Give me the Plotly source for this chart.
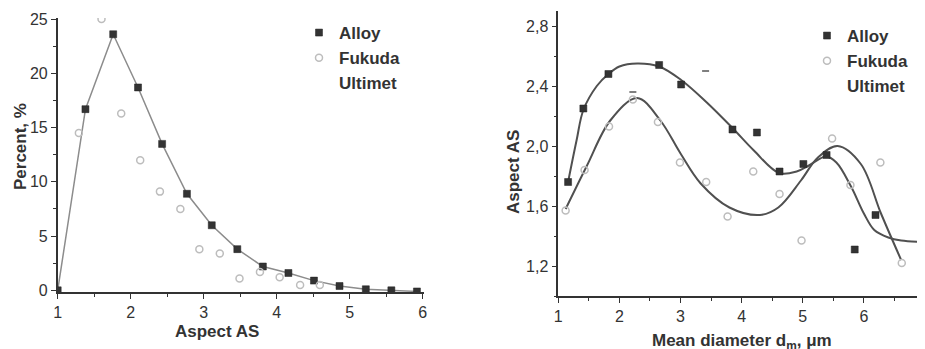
import plotly.graph_objects as go

# ---------------- Left panel data ----------------
alloy_as_x = [1.0, 1.38, 1.76, 2.10, 2.43, 2.77, 3.11, 3.46, 3.81, 4.16, 4.51, 4.86, 5.22, 5.57, 5.92]
alloy_as_y = [0.0, 16.7, 23.6, 18.7, 13.5, 8.9, 6.0, 3.8, 2.2, 1.6, 0.9, 0.4, 0.1, 0.0, -0.1]

fukuda_as_x = [1.29, 1.60, 1.87, 2.13, 2.40, 2.68, 2.94, 3.22, 3.49, 3.77, 4.04, 4.32, 4.59]
fukuda_as_y = [14.5, 25.0, 16.3, 12.0, 9.1, 7.5, 3.8, 3.4, 1.1, 1.7, 1.2, 0.5, 0.5]

# ---------------- Right panel data ----------------
alloy_d_x = [1.16, 1.41, 1.82, 2.65, 3.01, 3.85, 4.25, 4.62, 5.01, 5.39, 5.85, 6.19, 6.99]
alloy_d_y = [1.76, 2.25, 2.48, 2.54, 2.41, 2.11, 2.09, 1.83, 1.88, 1.94, 1.31, 1.54, 1.36]

fukuda_d_x = [1.12, 1.43, 1.83, 2.22, 2.63, 2.99, 3.42, 3.77, 4.19, 4.62, 4.98, 5.48, 5.78, 6.27, 6.62]
fukuda_d_y = [1.57, 1.84, 2.13, 2.31, 2.16, 1.89, 1.76, 1.53, 1.83, 1.68, 1.37, 2.05, 1.74, 1.89, 1.22]

ultimet_d_x = [2.22, 3.41]
ultimet_d_y = [2.36, 2.50]

# fitted curves
alloy_fit_x = [1.16, 1.30, 1.41, 1.63, 1.82, 2.00, 2.29, 2.65, 3.01, 3.43, 3.85, 4.20, 4.61, 4.90, 5.10, 5.38, 5.55, 5.79, 6.00, 6.17, 6.40, 6.61, 7.00]
alloy_fit_y = [1.76, 2.04, 2.24, 2.40, 2.48, 2.53, 2.55, 2.53, 2.44, 2.29, 2.12, 1.97, 1.82, 1.83, 1.87, 1.93, 1.89, 1.73, 1.55, 1.44, 1.39, 1.37, 1.36]

fukuda_fit_x = [1.12, 1.47, 1.85, 2.29, 2.67, 3.00, 3.33, 3.80, 4.30, 4.60, 4.97, 5.24, 5.57, 5.95, 6.28, 6.61]
fukuda_fit_y = [1.58, 1.87, 2.17, 2.32, 2.17, 1.95, 1.75, 1.59, 1.54, 1.59, 1.77, 1.92, 2.00, 1.88, 1.55, 1.24]

# The page body has an 8 px margin, so the figure is drawn 8 px smaller and
# everything is placed 8 px up/left of its target position in the window.
OFF = 8
W, H = 925 - OFF, 349 - OFF
FONT = "Liberation Sans, Arial, sans-serif"
SQ = "#333333"
CIR = "#bdbdbd"


def fx(px):
    return (px - OFF) / W


def fy(px):
    return 1 - (px - OFF) / H


fig = go.Figure()

# Left
fig.add_trace(go.Scatter(x=alloy_as_x, y=alloy_as_y, mode="lines", showlegend=False,
                         line=dict(color="#8c8c8c", width=1.5),
                         xaxis="x", yaxis="y"))
fig.add_trace(go.Scatter(x=alloy_as_x, y=alloy_as_y, mode="markers", name="Alloy",
                         marker=dict(symbol="square", size=7, color=SQ, line=dict(color="#222", width=0.5)),
                         xaxis="x", yaxis="y", legend="legend"))
fig.add_trace(go.Scatter(x=fukuda_as_x, y=fukuda_as_y, mode="markers", name="Fukuda",
                         marker=dict(symbol="circle-open", size=7, color=CIR, line=dict(width=1.5)),
                         xaxis="x", yaxis="y", legend="legend"))
fig.add_trace(go.Scatter(x=[None], y=[None], mode="markers", name="Ultimet",
                         marker=dict(color="rgba(0,0,0,0)"),
                         xaxis="x", yaxis="y", legend="legend"))

# Right
fig.add_trace(go.Scatter(x=alloy_fit_x, y=alloy_fit_y, mode="lines", showlegend=False,
                         line=dict(color="#505050", width=2, shape="spline", smoothing=1.0),
                         xaxis="x2", yaxis="y2"))
fig.add_trace(go.Scatter(x=fukuda_fit_x, y=fukuda_fit_y, mode="lines", showlegend=False,
                         line=dict(color="#505050", width=2, shape="spline", smoothing=1.0),
                         xaxis="x2", yaxis="y2"))
fig.add_trace(go.Scatter(x=alloy_d_x, y=alloy_d_y, mode="markers", name="Alloy",
                         marker=dict(symbol="square", size=7, color=SQ, line=dict(color="#222", width=0.5)),
                         xaxis="x2", yaxis="y2", legend="legend2"))
fig.add_trace(go.Scatter(x=fukuda_d_x, y=fukuda_d_y, mode="markers", name="Fukuda",
                         marker=dict(symbol="circle-open", size=7, color=CIR, line=dict(width=1.5)),
                         xaxis="x2", yaxis="y2", legend="legend2"))
fig.add_trace(go.Scatter(x=ultimet_d_x, y=ultimet_d_y, mode="markers", name="Ultimet", showlegend=False,
                         marker=dict(symbol="line-ew-open", size=5, color="#555", line=dict(width=1.5)),
                         xaxis="x2", yaxis="y2"))
fig.add_trace(go.Scatter(x=[None], y=[None], mode="markers", name="Ultimet",
                         marker=dict(color="rgba(0,0,0,0)"),
                         xaxis="x2", yaxis="y2", legend="legend2"))

axis_common = dict(showgrid=False, zeroline=False, showline=True, linecolor="#333", linewidth=1.5,
                   ticks="outside", ticklen=5, tickwidth=1.2, tickcolor="#333", automargin=False,
                   tickfont=dict(family=FONT, size=16, color="#333"))

legend_font = dict(family=FONT, size=17, color="#333", weight="bold")

fig.update_layout(
    template="none",
    width=W, height=H, margin=dict(l=0, r=0, t=0, b=0, pad=0),
    paper_bgcolor="white", plot_bgcolor="white",
    separators=", ",
    font=dict(family=FONT, color="#333"),
    xaxis=dict(domain=[fx(57.7), fx(423.5)], range=[1, 6.01], anchor="y", dtick=1, tick0=1,
               minor=dict(ticks="outside", ticklen=3, dtick=0.5, tickcolor="#333"), **axis_common),
    yaxis=dict(domain=[fy(292), fy(18)], range=[-0.15, 25.1], anchor="x", dtick=5, tick0=0,
               minor=dict(ticks="outside", ticklen=3, dtick=2.5, tickcolor="#333"), **axis_common),
    xaxis2=dict(domain=[fx(558.3), 1.0], range=[1, 7.0], anchor="y2", dtick=1, tick0=1,
                minor=dict(ticks="outside", ticklen=3, dtick=0.5, tickcolor="#333"), **axis_common),
    yaxis2=dict(domain=[fy(296), fy(11)], range=[1.0, 2.9], anchor="x2", dtick=0.4, tick0=1.2,
                tickformat=".1f",
                minor=dict(ticks="outside", ticklen=3, dtick=0.2, tickcolor="#333"), **axis_common),
    legend=dict(x=fx(299), y=fy(15), xanchor="left", yanchor="top", bgcolor="rgba(0,0,0,0)",
                font=legend_font, tracegroupgap=0),
    legend2=dict(x=fx(807), y=fy(18), xanchor="left", yanchor="top", bgcolor="rgba(0,0,0,0)",
                 font=legend_font, tracegroupgap=0),
)

title_font = dict(family=FONT, size=17, color="#333", weight="bold")
common_ann = dict(xref="paper", yref="paper", showarrow=False, font=title_font,
                  xanchor="center", yanchor="middle")
fig.add_annotation(text="Percent, %", x=fx(20), y=fy(147), textangle=-90, **common_ann)
fig.add_annotation(text="Aspect AS", x=fx(216.7), y=fy(331.7), **common_ann)
fig.add_annotation(text="Aspect AS", x=fx(513.3), y=fy(171.7), textangle=-90, **common_ann)
fig.add_annotation(text="Mean diameter d<sub>m</sub>, μm", x=fx(741.7), y=fy(341.7), **common_ann)

fig.write_html("out.html")
